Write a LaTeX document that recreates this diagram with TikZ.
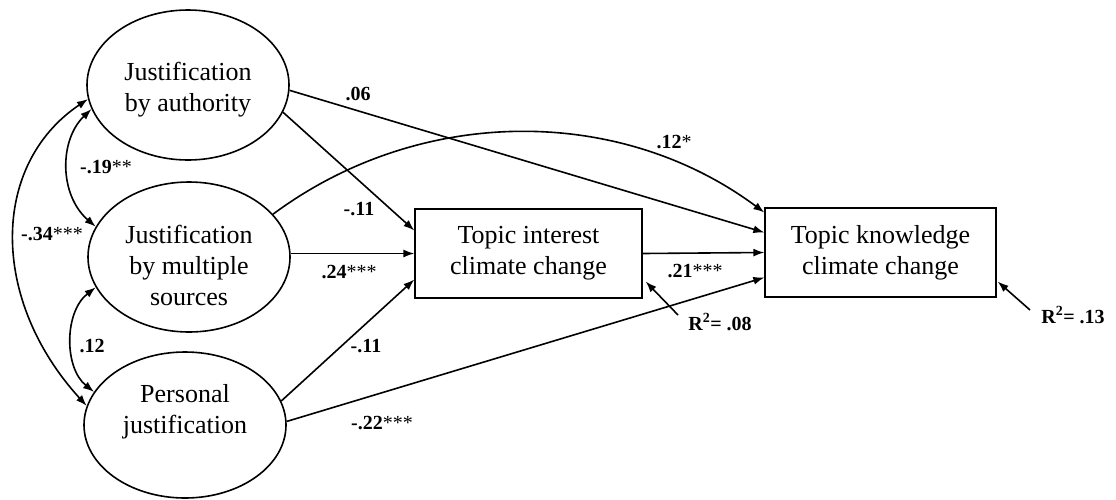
\documentclass[tikz,border=0pt]{standalone}
\usepackage{fontspec}
\setmainfont{Liberation Serif}
\usetikzlibrary{shapes.geometric, arrows.meta}

\begin{document}
\begin{tikzpicture}[x=1pt,y=1pt,
  latent/.style={draw, ellipse, line width=1.6pt, minimum width=202pt, minimum height=150pt, inner sep=0pt, align=center, font=\fontsize{26}{31}\selectfont},
  observed/.style={draw, rectangle, line width=1.3pt, minimum height=89pt, inner sep=0pt, align=center, font=\fontsize{26}{31}\selectfont},
  coef/.style={inner sep=1pt, font=\fontsize{20}{23}\selectfont},
  arr/.style={-{Latex[length=11pt,width=8pt]}, line width=1.6pt},
  both/.style={{Latex[length=11pt,width=8pt]}-{Latex[length=11pt,width=8pt]}, line width=1.6pt}]
\useasboundingbox (0,0) rectangle (1116,-499);
% constructs
\node[latent, text height=58pt] (jauth) at (188,-85) {Justification\\by authority};
\node[latent, text height=98pt] (jmult) at (189,-257) {Justification\\by multiple\\sources};
\node[latent, minimum height=146pt, text depth=33pt] (jpers) at (185,-425) {Personal\\justification};
\node[observed, minimum width=227pt] (interest) at (528.5,-253.5) {Topic interest\\climate change};
\node[observed, minimum width=231pt] (knowledge) at (880.5,-252.5) {Topic knowledge\\climate change};
% paths
\draw[arr] (jauth.-3) -- ([yshift=20pt]knowledge.west);
\draw[arr] (jauth.-16) -- ([yshift=23pt]interest.west);
\draw[arr] (jmult.27) .. controls (420,-105) and (620,-105) .. ([yshift=40pt]knowledge.west);
\draw[arr] (jmult.east |- interest.west) -- (interest.west);
\draw[arr] (jpers.14) -- ([yshift=-26pt]interest.west);
\draw[arr] (jpers.2) -- ([yshift=-25pt]knowledge.west);
\draw[arr] (interest.east) -- (knowledge.west);
% correlations
\draw[both] (jauth.194) .. controls (59,-140) and (59,-195) .. (jmult.162);
\draw[both] (jauth.188) .. controls (-10,-165) and (-10,-300) .. (jpers.169);
\draw[both] (jmult.198) .. controls (64,-312) and (64,-368) .. (jpers.160);
% residuals
\coordinate (r2a) at (678,-315);
\coordinate (r2b) at (1030,-310);
\draw[arr] (r2a) -- ([xshift=3pt,yshift=-28pt]interest.east);
\draw[arr] (r2b) -- ([xshift=1pt,yshift=-29pt]knowledge.east);
% coefficients
\node[coef] (c06) at (358,-94) {\textbf{.06}};
\node[coef] (c11a) at (359,-209) {\textbf{-.11}};
\node[coef] (c12s) at (674,-142) {\textbf{.12}*};
\node[coef] (c24) at (349,-272) {\textbf{.24}***};
\node[coef] (c11b) at (366,-346) {\textbf{-.11}};
\node[coef] (c22) at (382,-423) {\textbf{-.22}***};
\node[coef] (c21) at (695,-271) {\textbf{.21}***};
\node[coef] (c19) at (106,-167) {\textbf{-.19}**};
\node[coef] (c34) at (52,-234) {\textbf{-.34}***};
\node[coef] (c12) at (92,-346) {\textbf{.12}};
\node[coef] (r2int) at (720,-322) {\textbf{R\textsuperscript{2}= .08}};
\node[coef] (r2know) at (1073,-315) {\textbf{R\textsuperscript{2}= .13}};
\end{tikzpicture}
\end{document}
